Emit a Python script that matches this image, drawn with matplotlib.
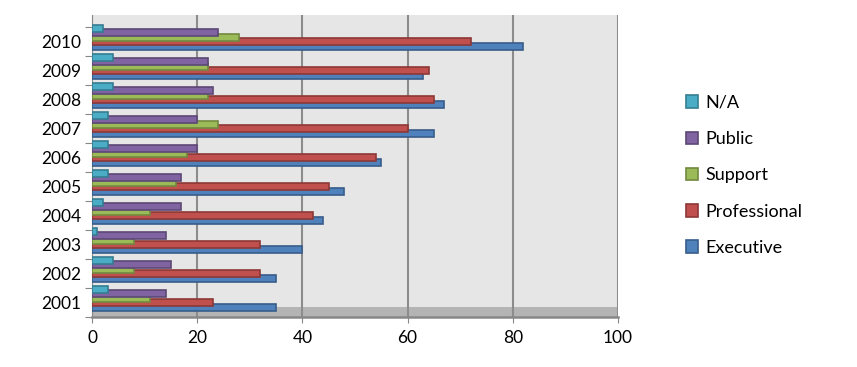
import matplotlib
matplotlib.use("Agg")
import matplotlib.pyplot as plt
import numpy as np

years = ["2001", "2002", "2003", "2004", "2005", "2006", "2007", "2008", "2009", "2010"]
executive = [35, 35, 40, 44, 48, 55, 65, 67, 63, 82]
professional = [23, 32, 32, 42, 45, 54, 60, 65, 64, 72]
support = [11, 8, 8, 11, 16, 18, 24, 22, 22, 28]
public = [14, 15, 14, 17, 17, 20, 20, 23, 22, 24]
na = [3, 4, 1, 2, 3, 3, 3, 4, 4, 2]

# drawn bottom-up so upper bars sit on top of lower ones
series = [
    ("Executive", executive, "#4F81BD", "#385D8A", -0.16),
    ("Professional", professional, "#C0504D", "#8C3836", -0.005),
    ("Support", support, "#9BBB59", "#71893F", 0.15),
    ("Public", public, "#8064A2", "#5C4776", 0.305),
    ("N/A", na, "#4BACC6", "#357D91", 0.46),
]

plt.rcParams["font.family"] = ["Lato", "DejaVu Sans"]

fig = plt.figure(figsize=(8.57, 3.67), dpi=100)
ax = fig.add_axes([0.1074, 0.1362, 0.6137, 0.8229])
ax.set_facecolor("#e6e6e6")

y = np.arange(len(years))
handles = {}
for i, (name, vals, fc, ec, off) in enumerate(series):
    b = ax.barh(y + off, vals, height=0.24, color=fc, edgecolor=ec,
                linewidth=1.2, zorder=3 + i, label=name)
    handles[name] = b

# floor band
ax.axhspan(-0.5, -0.155, color="#b4b4b4", zorder=0.5, lw=0)

ax.set_xlim(0, 100)
ax.set_ylim(-0.5, 9.91)
ax.set_xticks([0, 20, 40, 60, 80, 100])
ax.tick_params(axis="x", labelsize=12.5, length=4, color="#888888", pad=5)
ax.xaxis.grid(True, color="#8c8c8c", linewidth=1.5, zorder=1)
ax.set_axisbelow(True)

ax.set_yticks(np.arange(-0.5, 10, 1.0))
ax.set_yticklabels([])
ax.tick_params(axis="y", which="major", length=5, color="#888888")
ax.set_yticks(y, minor=True)
ax.set_yticklabels(years, minor=True)
ax.tick_params(axis="y", which="minor", length=0, labelsize=12.5, pad=8)

for s in ["top", "right"]:
    ax.spines[s].set_visible(False)
ax.spines["left"].set_color("#888888")
ax.spines["bottom"].set_color("#888888")
ax.spines["bottom"].set_linewidth(1.8)

order = ["N/A", "Public", "Support", "Professional", "Executive"]
fig.legend([handles[n] for n in order], order, loc="center left",
           bbox_to_anchor=(0.781, 0.522), frameon=False, fontsize=13,
           handlelength=0.7, handleheight=0.7, labelspacing=1.12,
           handletextpad=0.4)

fig.savefig("out.png", dpi=100)
